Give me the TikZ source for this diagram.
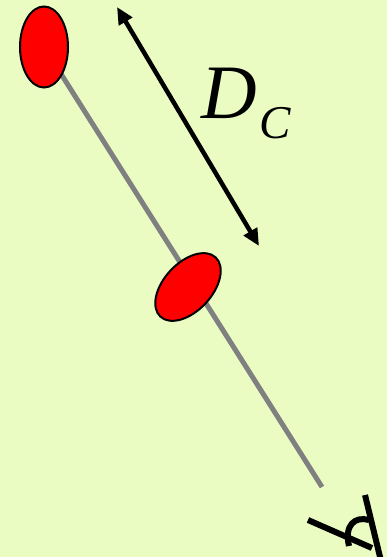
\documentclass[tikz,border=0pt]{standalone}
\usepackage{fontspec}
\setmainfont{Liberation Serif}
\usetikzlibrary{shapes.geometric,arrows.meta}
\definecolor{bgc}{RGB}{234,252,194}
\definecolor{linegray}{RGB}{128,128,128}
\tikzset{
  bead/.style={ellipse, draw=black, line width=2pt, fill=red, inner sep=0pt},
  rod/.style={draw=linegray, line width=5pt},
  dim/.style={draw=black, line width=4.5pt, {Triangle[length=17pt,width=15pt]}-{Triangle[length=17pt,width=15pt]}},
  mark line/.style={draw=black, line width=6pt},
}
\begin{document}
\begin{tikzpicture}[x=1pt,y=1pt]
\fill[bgc] (0,0) rectangle (387,557);
\useasboundingbox (0,0) rectangle (387,557);
\clip (0,0) rectangle (387,557);
\coordinate (rodstart) at (44,510);
\coordinate (rodend) at (322,70);
\draw[rod] (rodstart) -- (rodend);
\node[bead, minimum width=48pt, minimum height=81pt] (top) at (44,510) {};
\node[bead, minimum width=81pt, minimum height=48pt, rotate=47] (mid) at (188,270) {};
\coordinate (arrA) at (117,550);
\coordinate (arrB) at (259,311);
\draw[dim] (arrA) -- (arrB);
\node[anchor=base west, inner sep=0pt, font=\fontsize{77}{80}\selectfont\itshape] (D) at (201,438) {D};
\node[anchor=base west, inner sep=0pt, font=\fontsize{47}{50}\selectfont\itshape] (C) at (259,418) {C};
\coordinate (s1) at (365,62);
\coordinate (s2) at (381,-4);
\coordinate (t1) at (308,37);
\coordinate (t2) at (372,9);
\coordinate (h1) at (369,37);
\coordinate (h2) at (349,11);
\draw[mark line] (s1) -- (s2);
\draw[mark line] (t1) -- (t2);
\draw[mark line] (h1) .. controls (355,41) and (344,32) .. (h2);
\end{tikzpicture}
\end{document}
